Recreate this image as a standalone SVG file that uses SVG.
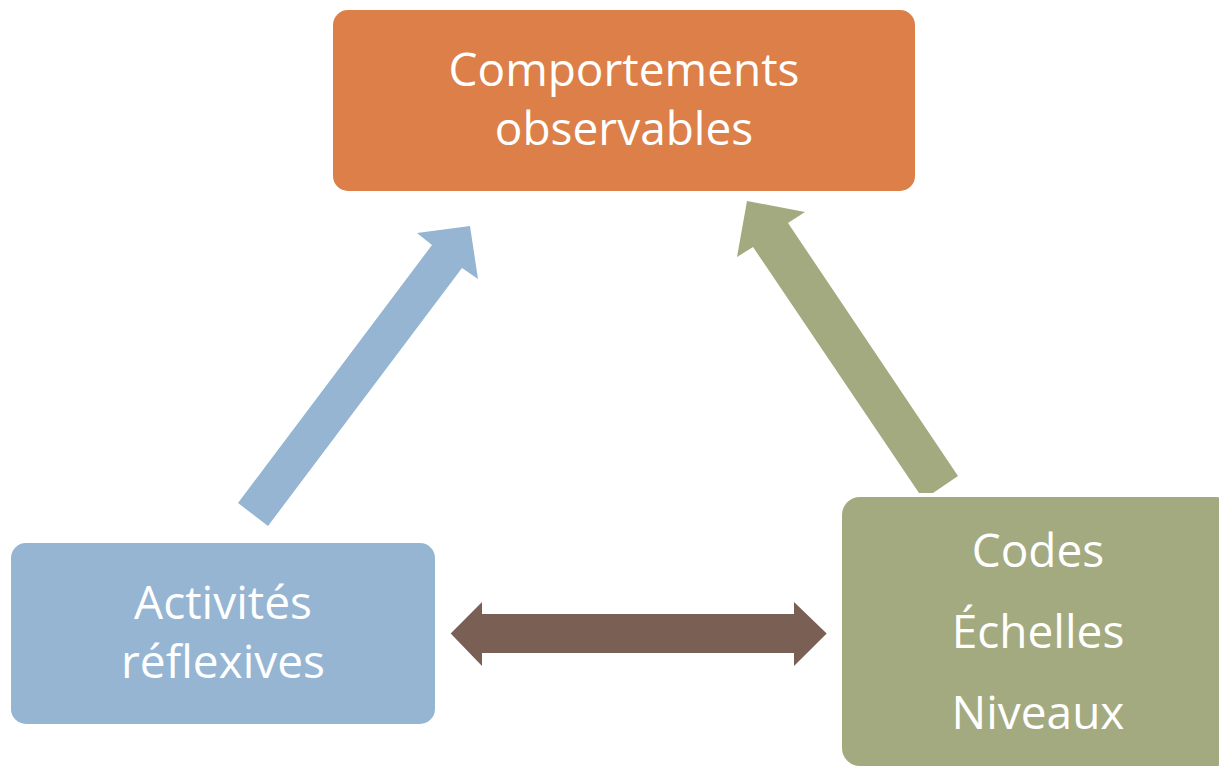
<svg xmlns="http://www.w3.org/2000/svg" width="1219" height="767" viewBox="0 0 1219 767">
<style>
.lbl{font-family:"Open Sans","Noto Sans","Liberation Sans",sans-serif;font-size:46px;fill:#ffffff;text-anchor:middle}
</style>
<rect width="1219" height="767" fill="#ffffff"/>
<g id="connectors">
<polygon id="arrow-blue" fill="#95b5d3" points="238,503 432,245 417,233 470,226 478,279 462,268 268,526"/>
<polygon id="arrow-green" fill="#a4aa7f" points="919,493 753,247 737,257 747,201 805,212 788,223 958,476 933,493"/>
<polygon id="arrow-double" fill="#7a5f54" points="450.7,633.5 482,602 482,614 794,614 794,602 826.7,633.5 794,666 794,653 482,653 482,666"/>
</g>
<g id="node-comportements">
<rect x="333" y="10" width="582" height="181" rx="15" fill="#dc7f48"/>
<text class="lbl" x="624" y="86">Comportements</text>
<text class="lbl" x="624" y="145">observables</text>
</g>
<g id="node-activites">
<rect x="11" y="543" width="424" height="181" rx="15" fill="#95b5d3"/>
<text class="lbl" x="223" y="619">Activités</text>
<text class="lbl" x="223" y="678">réflexives</text>
</g>
<g id="node-codes">
<rect x="842" y="497" width="392" height="269" rx="18" fill="#a4aa7f"/>
<text class="lbl" x="1038" y="567">Codes</text>
<text class="lbl" x="1038" y="648">Échelles</text>
<text class="lbl" x="1038" y="729">Niveaux</text>
</g>
</svg>
